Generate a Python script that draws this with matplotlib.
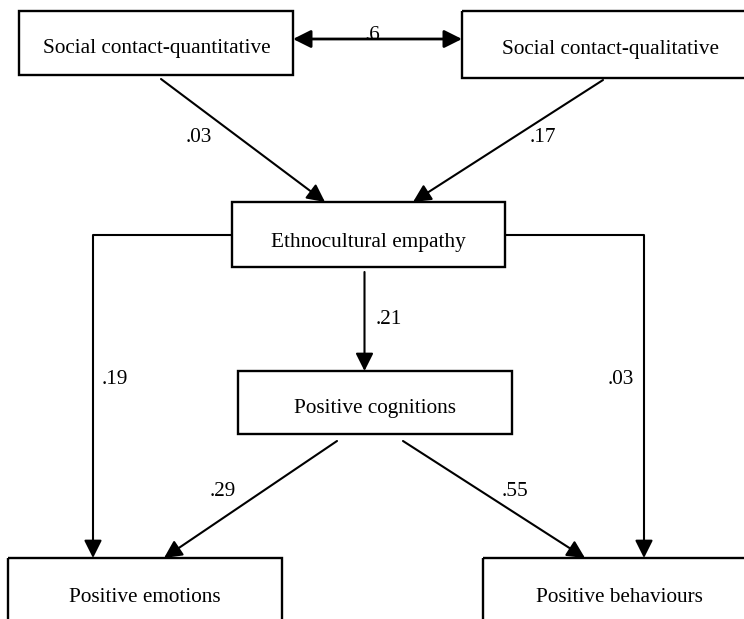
import matplotlib
matplotlib.use("Agg")
import matplotlib.pyplot as plt
from matplotlib.patches import Rectangle, FancyArrowPatch, ArrowStyle

# ---- data ----
node_names = ["quant", "qual", "ethno", "cog", "emo", "beh"]
node_labels = ["Social contact-quantitative", "Social contact-qualitative",
               "Ethnocultural empathy", "Positive cognitions",
               "Positive emotions", "Positive behaviours"]
path_from = ["quant", "qual", "ethno", "ethno", "ethno", "cog", "cog"]
path_to = ["ethno", "ethno", "cog", "emo", "beh", "emo", "beh"]
path_coef = [".03", ".17", ".21", ".19", ".03", ".29", ".55"]
corr_pair = ("quant", "qual")
corr_coef = ".6"

# ---- layout (pixel space) ----
boxes = {  # x0, y0, x1, y1
    "quant": (19, 11, 293, 75),
    "qual": (462, 11, 758, 78),
    "ethno": (232, 202, 505, 267),
    "cog": (238, 371, 512, 434),
    "emo": (8, 558, 282, 632),
    "beh": (483, 558, 757, 632),
}
text_pos = {
    "quant": (157, 53), "qual": (610, 54), "ethno": (368, 247),
    "cog": (375, 413), "emo": (145, 602), "beh": (619, 602),
}
# path geometry: list of points (last point is the arrow tip)
path_geom = [
    [(161, 79), (325, 202)],
    [(603, 80), (413, 202)],
    [(364.5, 272), (364.5, 371)],
    [(232, 235), (93, 235), (93, 558)],
    [(505, 235), (644, 235), (644, 558)],
    [(337, 441), (164, 558)],
    [(403, 441), (585, 558)],
]
label_pos = [(199, 137), (543, 137), (389, 320), (115, 380),
             (621, 380), (223, 492), (515, 492)]
corr_geom = [(293, 39), (462, 39)]
corr_label_pos = (373, 36)

W, H = 744, 619
fig = plt.figure(figsize=(W / 100, H / 100), dpi=100)
ax = fig.add_axes([0, 0, 1, 1])
ax.set_xlim(0, W)
ax.set_ylim(H, 0)
ax.axis("off")

font = dict(family=["Liberation Serif", "DejaVu Serif"], fontsize=15.3, color="black")

for name, label in zip(node_names, node_labels):
    x0, y0, x1, y1 = boxes[name]
    ax.add_patch(Rectangle((x0, y0), x1 - x0, y1 - y0, fill=False,
                           edgecolor="black", linewidth=1.7))
    tx, ty = text_pos[name]
    ax.text(tx, ty, label, ha="center", va="baseline", **font)

style = ArrowStyle("-|>", head_length=0.9, head_width=0.45)
for geom, coef, (lx, ly) in zip(path_geom, path_coef, label_pos):
    if len(geom) > 2:
        xs = [p[0] for p in geom[:-1]]
        ys = [p[1] for p in geom[:-1]]
        ax.plot(xs, ys, color="black", linewidth=1.5, solid_capstyle="butt")
    arr = FancyArrowPatch(geom[-2], geom[-1], arrowstyle=style, mutation_scale=12,
                          color="black", linewidth=1.5, shrinkA=0, shrinkB=0)
    ax.add_patch(arr)
    ax.text(lx, ly, coef, ha="center", va="center", **font)

style2 = ArrowStyle("<|-|>", head_length=0.9, head_width=0.45)
ax.add_patch(FancyArrowPatch(corr_geom[0], corr_geom[1], arrowstyle=style2,
                             mutation_scale=12, color="black", linewidth=2.0,
                             shrinkA=0, shrinkB=0))
ax.text(corr_label_pos[0], corr_label_pos[1], corr_coef, ha="center",
        va="center", **font)

fig.savefig("out.png", dpi=100, facecolor="white")
